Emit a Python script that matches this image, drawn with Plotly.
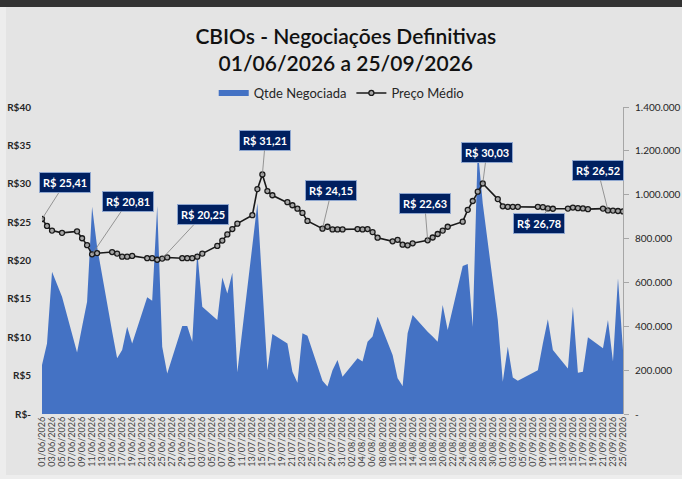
import plotly.graph_objects as go

# trading days shown in the chart (holidays 04/06 and 07/09 have no data)
datas = [
    "2026-06-01", "2026-06-02", "2026-06-03", "2026-06-05", "2026-06-08", "2026-06-09",
    "2026-06-10", "2026-06-11", "2026-06-12", "2026-06-15", "2026-06-16", "2026-06-17",
    "2026-06-18", "2026-06-19", "2026-06-22", "2026-06-23", "2026-06-24", "2026-06-25",
    "2026-06-26", "2026-06-29", "2026-06-30", "2026-07-01", "2026-07-02", "2026-07-03",
    "2026-07-06", "2026-07-07", "2026-07-08", "2026-07-09", "2026-07-10", "2026-07-13",
    "2026-07-14", "2026-07-15", "2026-07-16", "2026-07-17", "2026-07-20", "2026-07-21",
    "2026-07-22", "2026-07-23", "2026-07-24", "2026-07-27", "2026-07-28", "2026-07-29",
    "2026-07-30", "2026-07-31", "2026-08-03", "2026-08-04", "2026-08-05", "2026-08-06",
    "2026-08-07", "2026-08-10", "2026-08-11", "2026-08-12", "2026-08-13", "2026-08-14",
    "2026-08-17", "2026-08-18", "2026-08-19", "2026-08-20", "2026-08-21", "2026-08-24",
    "2026-08-25", "2026-08-26", "2026-08-27", "2026-08-28", "2026-08-31", "2026-09-01",
    "2026-09-02", "2026-09-03", "2026-09-04", "2026-09-08", "2026-09-09", "2026-09-10",
    "2026-09-11", "2026-09-14", "2026-09-15", "2026-09-16", "2026-09-17", "2026-09-18",
    "2026-09-21", "2026-09-22", "2026-09-23", "2026-09-24", "2026-09-25",
]

qtde_negociada = [
    223000, 322000, 649000, 535000, 280000, 398000,
    512000, 945000, 763000, 376000, 254000, 292000,
    398000, 322000, 532000, 517000, 948000, 307000,
    185000, 401000, 401000, 330000, 740000, 489000,
    429000, 623000, 550000, 644000, 190000, 768000,
    961000, 581000, 200000, 365000, 322000, 193000,
    143000, 368000, 357000, 152000, 125000, 200000,
    246000, 170000, 254000, 239000, 330000, 353000,
    444000, 269000, 163000, 128000, 368000, 451000,
    375000, 353000, 330000, 497000, 383000, 675000,
    684000, 398000, 1210000, 960000, 430000, 147000,
    307000, 167000, 152000, 200000, 322000, 432000,
    292000, 208000, 489000, 188000, 193000, 350000,
    300000, 429000, 239000, 619000, 292000,
]

preco_medio = [
    25.41, 24.50, 23.90, 23.60, 23.80, 22.90,
    22.00, 20.81, 20.95, 21.10, 20.90, 20.50,
    20.50, 20.60, 20.30, 20.30, 20.10, 20.25,
    20.40, 20.30, 20.30, 20.30, 20.50, 20.90,
    21.90, 22.60, 23.40, 24.10, 24.80, 25.90,
    29.30, 31.21, 29.05, 28.50, 27.60, 27.20,
    26.75, 26.20, 25.15, 24.15, 24.40, 24.05,
    24.05, 24.05, 24.10, 24.05, 24.10, 23.70,
    22.97, 22.50, 22.70, 22.06, 21.98, 22.24,
    22.63, 23.00, 23.45, 23.90, 24.40, 25.06,
    26.60, 27.75, 28.97, 30.03, 28.00, 27.06,
    27.00, 27.00, 27.00, 27.00, 26.95, 26.78,
    26.74, 26.76, 26.90, 26.82, 26.78, 26.69,
    26.76, 26.52, 26.50, 26.45, 26.40,
]

# dates that carry a price callout
datas_rotulo = ["2026-06-01", "2026-06-11", "2026-06-25", "2026-07-15", "2026-07-27",
                "2026-08-17", "2026-08-28", "2026-09-10", "2026-09-22"]

preco_ticks = [0, 5, 10, 15, 20, 25, 30, 35, 40]
qtde_ticks = [0, 200000, 400000, 600000, 800000, 1000000, 1200000, 1400000]

preco_ticktext = ["R$-" if v == 0 else "R$%d" % v for v in preco_ticks]
qtde_ticktext = ["-" if v == 0 else f"{v:,}".replace(",", ".") for v in qtde_ticks]

fundo = "#E4E4E4"
azul = "#4472C4"
fonte = "Lato"

fig = go.Figure()

# area first on the primary axis, the price line goes on the overlaying axis
fig.add_trace(go.Scatter(
    x=datas, y=qtde_negociada, name="Qtde Negociada",
    mode="none", fill="tozeroy", fillcolor=azul,
    yaxis="y",
))
fig.add_trace(go.Scatter(
    x=datas, y=preco_medio, name="Preço Médio",
    mode="lines+markers",
    line=dict(color="#1A1A1A", width=1.6),
    marker=dict(size=5, color="#A6A6A6", line=dict(color="#1A1A1A", width=1.3)),
    yaxis="y2",
))

# callout offsets (pixels) from the point to the box centre
offsets = [(23, -36), (36, -53), (41, -44), (3, -34), (9, -38),
           (-3, -37), (4, -31), (-9, 15), (-10, -40)]

for d, (ax, ay) in zip(datas_rotulo, offsets):
    v = preco_medio[datas.index(d)]
    fig.add_annotation(
        x=d, y=v, xref="x", yref="y2",
        text="<b>R$ %s</b>" % ("%.2f" % v).replace(".", ","),
        showarrow=True, arrowhead=0, arrowwidth=0.8, arrowcolor="#7F7F7F",
        ax=ax, ay=ay, standoff=0,
        font=dict(family=fonte, size=11, color="white"),
        bgcolor="#002060", bordercolor="#8EA6CF", borderwidth=1, borderpad=3,
    )

# dark band on top and lighter frame like the original screenshot
fig.add_shape(type="rect", xref="paper", yref="paper",
              x0=-42 / 581, x1=640 / 581, y0=1 + 100 / 307, y1=1 + 107 / 307,
              fillcolor="#333333", line=dict(width=0), layer="below")
fig.add_shape(type="rect", xref="paper", yref="paper",
              x0=-42 / 581, x1=-36 / 581, y0=-65 / 307, y1=1 + 100 / 307,
              fillcolor="#EDEDED", line=dict(width=0), layer="below")
fig.add_shape(type="rect", xref="paper", yref="paper",
              x0=-42 / 581, x1=640 / 581, y0=-65 / 307, y1=-61 / 307,
              fillcolor="#EDEDED", line=dict(width=0), layer="below")

fig.update_layout(
    width=682, height=479,
    margin=dict(l=42, r=59, t=107, b=65),
    paper_bgcolor=fundo, plot_bgcolor=fundo,
    font=dict(family=fonte, color="#262626"),
    title=dict(
        text="CBIOs - Negociações Definitivas<br>01/06/2026 a 25/09/2026",
        x=0.507, xanchor="center", xref="container",
        y=1 - 44 / 479, yanchor="top", yref="container",
        font=dict(family=fonte, size=21, color="#111111", weight=600),
    ),
    legend=dict(
        orientation="h", x=0.515, xanchor="center",
        y=1 + 14 / 307, yanchor="middle",
        font=dict(family=fonte, size=13, color="#262626"),
        bgcolor="rgba(0,0,0,0)", itemwidth=30,
    ),
    showlegend=True,
    xaxis=dict(
        type="date", range=["2026-06-01", "2026-09-25"],
        tick0="2026-06-01", dtick=2 * 86400000, tickformat="%d/%m/%Y",
        tickangle=-90, showgrid=False, zeroline=False, automargin=False,
        tickfont=dict(family=fonte, size=9, color="#404040"),
    ),
    yaxis=dict(
        side="right", range=[0, 1400000],
        tickvals=qtde_ticks, ticktext=qtde_ticktext,
        showgrid=False, zeroline=False, automargin=False,
        showline=True, linecolor="#A6A6A6", linewidth=1,
        ticks="outside", ticklen=5, tickcolor="#A6A6A6",
        tickfont=dict(family=fonte, size=10, color="#262626"),
        ticklabelstandoff=4,
    ),
    yaxis2=dict(
        overlaying="y", side="left", range=[0, 40],
        tickvals=preco_ticks, ticktext=preco_ticktext,
        showgrid=False, zeroline=False, automargin=False,
        tickfont=dict(family=fonte, size=10, color="#262626", weight="bold"),
        ticklabelstandoff=10,
    ),
)

# the page body has a default 8px margin; drop it so the figure sits at the corner
fig.write_html("out.html", config={"displayModeBar": False},
               post_script="document.body.style.margin='0';")
